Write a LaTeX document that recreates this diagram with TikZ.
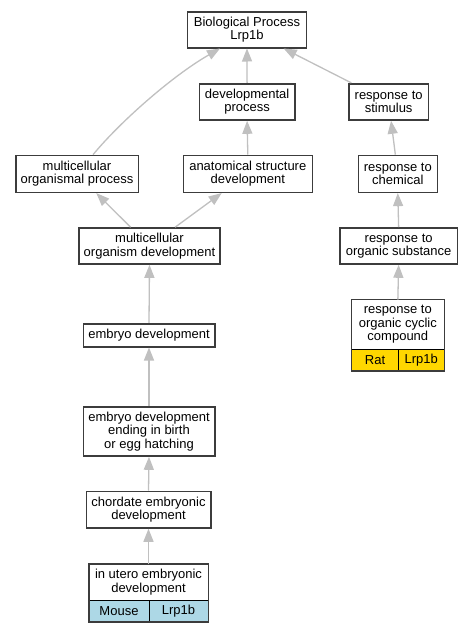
\documentclass[tikz,border=0pt]{standalone}
\usepackage{fontspec}
\setmainfont{Liberation Sans}
\usetikzlibrary{arrows.meta}
\definecolor{edgegray}{RGB}{192,192,192}
\definecolor{boxline}{RGB}{60,60,60}
\definecolor{mouseblue}{RGB}{173,216,230}
\definecolor{ratgold}{RGB}{255,215,0}
\begin{document}
\begin{tikzpicture}[x=1pt,y=-1pt,
  lbl/.style={inner sep=0pt, align=center, font=\fontsize{13}{13.4}\selectfont},
  box/.style={lbl, draw=boxline, line width=1.6pt, fill=white},
  boxtop/.style={lbl, fill=white},
  cell/.style={lbl, draw=black, line width=1pt},
  outerline/.style={draw=boxline, line width=1.6pt},
  edge/.style={draw=edgegray, line width=1.3pt, -{Triangle[length=13pt,width=10pt]}}]
\useasboundingbox (0,0) rectangle (472,632);
\fill[white] (0,0) rectangle (472,632);

% nodes
\node[box, minimum width=118.7pt, minimum height=35.7pt] (bp) at (247,29.85) {Biological Process\\Lrp1b};
\node[box, minimum width=95.2pt, minimum height=36.3pt] (dp) at (247.1,101.85) {developmental\\process};
\node[box, minimum width=79.3pt, minimum height=36.3pt] (rs) at (388.65,101.85) {response to\\stimulus};
\node[box, minimum width=122.6pt, minimum height=36.8pt] (mop) at (77,173.9) {multicellular\\organismal process};
\node[box, minimum width=129pt, minimum height=36.8pt] (asd) at (247.8,173.9) {anatomical structure\\development};
\node[box, minimum width=79pt, minimum height=36.8pt] (rc) at (397.8,173.9) {response to\\chemical};
\node[box, minimum width=141pt, minimum height=36pt] (mod) at (149.5,246) {multicellular\\organism development};
\node[box, minimum width=117.3pt, minimum height=36pt] (ros) at (398.65,246) {response to\\organic substance};
\node[box, minimum width=131.4pt, minimum height=23pt] (ed) at (149,335.2) {embryo development};
\node[box, minimum width=131.4pt, minimum height=49.3pt] (ede) at (149,431.35) {embryo development\\ending in birth\\or egg hatching};
\node[box, minimum width=124.4pt, minimum height=36.7pt] (ced) at (148.5,509.65) {chordate embryonic\\development};

% response to organic cyclic compound
\node[boxtop, minimum width=92.3pt, minimum height=49.6pt] (roc) at (397.85,324.5) {response to\\organic cyclic\\compound};
\node[cell, fill=ratgold, minimum width=46.6pt, minimum height=21.4pt] (rocL) at (375,360) {Rat};
\node[cell, fill=ratgold, minimum width=45.7pt, minimum height=21.4pt] (rocR) at (421.15,360) {Lrp1b};
\draw[outerline] (roc.north west) rectangle (rocR.south east);

% in utero embryonic development
\node[boxtop, minimum width=119pt, minimum height=36pt] (iued) at (148.5,582) {in utero embryonic\\development};
\node[cell, fill=mouseblue, minimum width=60pt, minimum height=21.3pt] (iuedL) at (119,610.65) {Mouse};
\node[cell, fill=mouseblue, minimum width=59pt, minimum height=21.3pt] (iuedR) at (178.5,610.65) {Lrp1b};
\draw[outerline] (iued.north west) rectangle (iuedR.south east);

% edges
\draw[edge] (dp.north) -- (bp.south);
\draw[edge] (rs) -- (bp);
\draw[edge] ([xshift=16pt]mop.north) .. controls (120,122) and (172,76) .. ([xshift=-27pt]bp.south);
\draw[edge] (asd.north) -- (dp.south);
\draw[edge] (rc) -- (rs);
\draw[edge] (mod) -- (mop);
\draw[edge] (mod) -- (asd);
\draw[edge] (ros.north) -- (rc.south);
\draw[edge] (roc.north) -- (ros.south);
\draw[edge] (ed.north) -- (mod.south);
\draw[edge] (ede.north) -- (ed.south);
\draw[edge] (ced.north) -- (ede.south);
\draw[edge] (iued.north) -- (ced.south);
\end{tikzpicture}
\end{document}
